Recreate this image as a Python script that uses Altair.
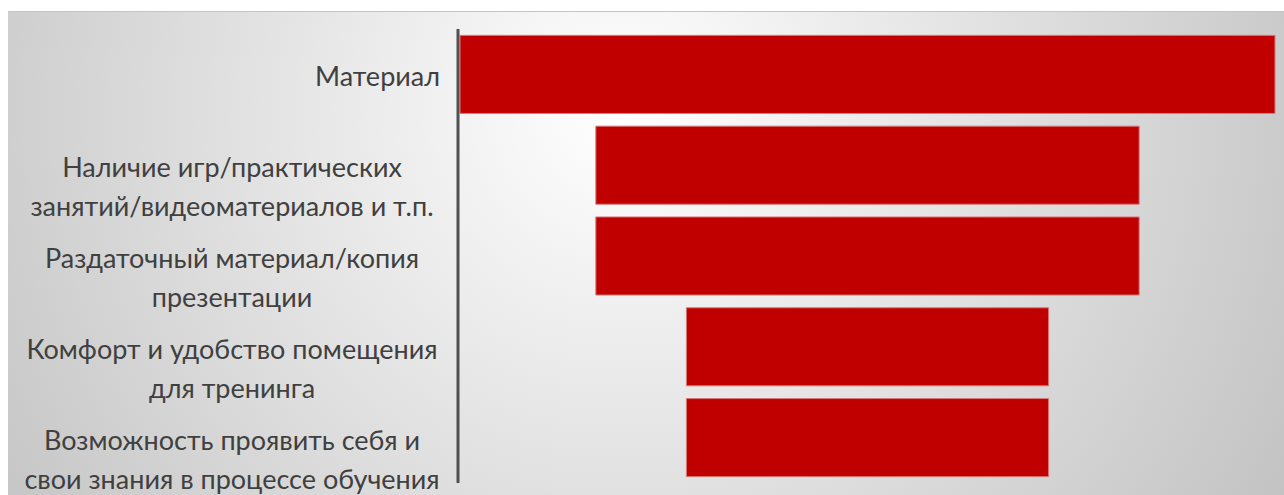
import altair as alt
import pandas as pd

categories = [
    "Материал",
    "Наличие игр/практических\nзанятий/видеоматериалов и т.п.",
    "Раздаточный материал/копия\nпрезентации",
    "Комфорт и удобство помещения\nдля тренинга",
    "Возможность проявить себя и\nсвои знания в процессе обучения",
]
values = [9, 6, 6, 4, 4]

df = pd.DataFrame({"category": categories, "value": values})
vmax = max(values)

W, H = 815, 454
FONT = "Lato"

y_scale = alt.Scale(domain=categories, paddingInner=0.14, paddingOuter=0.07)
x_scale = alt.Scale(domain=[0, vmax], nice=False, zero=False)

bg_grad = alt.Gradient(
    gradient="radial",
    stops=[alt.GradientStop(color="#ffffff", offset=0),
           alt.GradientStop(color="#c2c2c2", offset=1)],
    x1=0.48, y1=0.388, r1=0,
    x2=0.48, y2=0.388, r2=0.61,
)

one = pd.DataFrame({"k": [0]})
background = alt.Chart(one).mark_rect(fill=bg_grad).encode(
    x=alt.value(-452), x2=alt.value(W + 9), y=alt.value(-18), y2=alt.value(H + 12)
)
topline = alt.Chart(one).mark_rule(color="#c4c4c4", strokeWidth=1).encode(
    x=alt.value(-452), x2=alt.value(W + 9), y=alt.value(-17.5)
)
axisline = alt.Chart(one).mark_rule(color="#505050", strokeWidth=3).encode(
    x=alt.value(-2), y=alt.value(0), y2=alt.value(H)
)

base = alt.Chart(df).transform_calculate(
    start=f"({vmax} - datum.value) / 2",
    end=f"({vmax} + datum.value) / 2",
)

bars = base.mark_bar(color="#c00000", stroke="#d97a7a", strokeWidth=1).encode(
    x=alt.X("start:Q", scale=x_scale, axis=None),
    x2="end:Q",
    y=alt.Y("category:N", sort=categories, scale=y_scale, axis=None),
)

labels_first = alt.Chart(df).transform_filter(
    alt.datum.category == categories[0]
).mark_text(
    align="right", baseline="alphabetic", dy=12, font=FONT, fontSize=27,
    color="#404040", lineBreak="\n", lineHeight=39,
).encode(
    y=alt.Y("category:N", sort=categories, scale=y_scale, axis=None),
    x=alt.value(-20),
    text="category:N",
)

labels_rest = alt.Chart(df).transform_filter(
    alt.datum.category != categories[0]
).mark_text(
    align="center", baseline="alphabetic", dy=12, font=FONT, fontSize=27,
    color="#404040", lineBreak="\n", lineHeight=39,
).encode(
    y=alt.Y("category:N", sort=categories, scale=y_scale, axis=None),
    x=alt.value(-228),
    text="category:N",
)

chart = alt.layer(background, topline, bars, axisline, labels_first, labels_rest).properties(
    width=W, height=H,
    padding={"left": 460, "top": 29, "right": 9, "bottom": 12},
    autosize=alt.AutoSizeParams(type="none"),
    background="#ffffff",
).configure_view(stroke=None)

chart.save("out.html", embed_options={"renderer": "svg", "actions": False})
